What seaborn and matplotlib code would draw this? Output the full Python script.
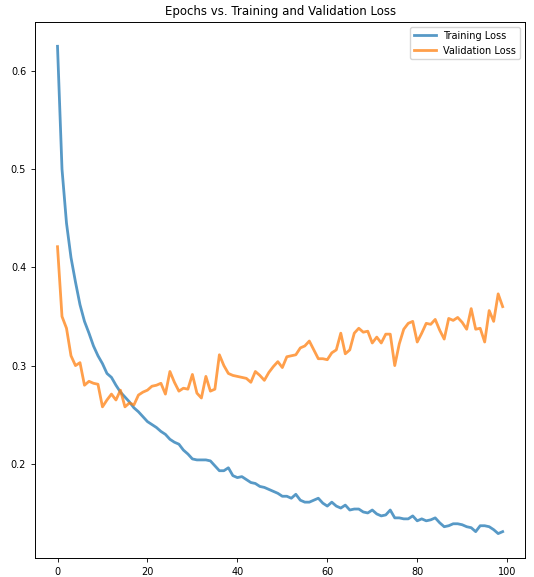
import numpy as np
import pandas as pd
import matplotlib
matplotlib.use("Agg")
import matplotlib.pyplot as plt
import seaborn as sns

# values (100 epochs)
train_loss = [
    0.625, 0.500, 0.445, 0.410, 0.385, 0.362, 0.345, 0.333, 0.320, 0.310,
    0.302, 0.292, 0.288, 0.280, 0.273, 0.268, 0.263, 0.257, 0.253, 0.248,
    0.243, 0.240, 0.237, 0.233, 0.230, 0.225, 0.222, 0.220, 0.214, 0.210,
    0.205, 0.204, 0.204, 0.204, 0.203, 0.198, 0.193, 0.193, 0.196, 0.188,
    0.186, 0.187, 0.184, 0.181, 0.180, 0.177, 0.176, 0.174, 0.172, 0.170,
    0.167, 0.167, 0.165, 0.169, 0.163, 0.161, 0.161, 0.163, 0.165, 0.160,
    0.157, 0.161, 0.157, 0.155, 0.158, 0.153, 0.154, 0.154, 0.151, 0.150,
    0.153, 0.149, 0.147, 0.148, 0.153, 0.145, 0.145, 0.144, 0.144, 0.147,
    0.142, 0.144, 0.142, 0.143, 0.145, 0.140, 0.136, 0.137, 0.139, 0.139,
    0.138, 0.136, 0.135, 0.131, 0.137, 0.137, 0.136, 0.133, 0.129, 0.131,
]
val_loss = [
    0.421, 0.350, 0.338, 0.310, 0.300, 0.303, 0.280, 0.284, 0.282, 0.281,
    0.258, 0.265, 0.271, 0.265, 0.275, 0.258, 0.262, 0.260, 0.270, 0.273,
    0.275, 0.279, 0.280, 0.282, 0.271, 0.294, 0.283, 0.274, 0.277, 0.276,
    0.291, 0.272, 0.267, 0.289, 0.274, 0.276, 0.311, 0.300, 0.292, 0.290,
    0.289, 0.288, 0.287, 0.283, 0.294, 0.290, 0.285, 0.293, 0.299, 0.304,
    0.298, 0.309, 0.310, 0.311, 0.318, 0.320, 0.325, 0.316, 0.307, 0.307,
    0.306, 0.313, 0.316, 0.333, 0.312, 0.316, 0.333, 0.338, 0.334, 0.335,
    0.323, 0.329, 0.323, 0.332, 0.332, 0.300, 0.322, 0.337, 0.343, 0.345,
    0.324, 0.333, 0.343, 0.342, 0.347, 0.336, 0.327, 0.348, 0.346, 0.349,
    0.344, 0.337, 0.358, 0.337, 0.338, 0.324, 0.356, 0.345, 0.373, 0.360,
]
epochs = list(range(len(train_loss)))
series_names = ["Training Loss", "Validation Loss"]

df = pd.DataFrame({
    "epoch": epochs * 2,
    "loss": train_loss + val_loss,
    "series": [series_names[0]] * len(epochs) + [series_names[1]] * len(epochs),
})

fig = plt.figure(figsize=(5.34, 5.77), dpi=100)
ax = fig.add_axes([0.066, 0.033, 0.917, 0.929])
sns.lineplot(data=df, x="epoch", y="loss", hue="series",
             palette=["#1f77b4", "#ff7f0e"], linewidth=2, alpha=0.75, ax=ax)

ax.set_xlabel("")
ax.set_ylabel("")
ax.set_title("Epochs vs. Training and Validation Loss", fontsize=8.5, pad=5)
ax.set_xticks([0, 20, 40, 60, 80, 100])
ax.set_yticks([0.2, 0.3, 0.4, 0.5, 0.6])
ax.tick_params(labelsize=7, length=3, width=0.6)
for s in ax.spines.values():
    s.set_linewidth(0.7)
ax.legend(title=None, loc="upper right", fontsize=7, handlelength=2.2)

plt.savefig("out.png", dpi=100)
